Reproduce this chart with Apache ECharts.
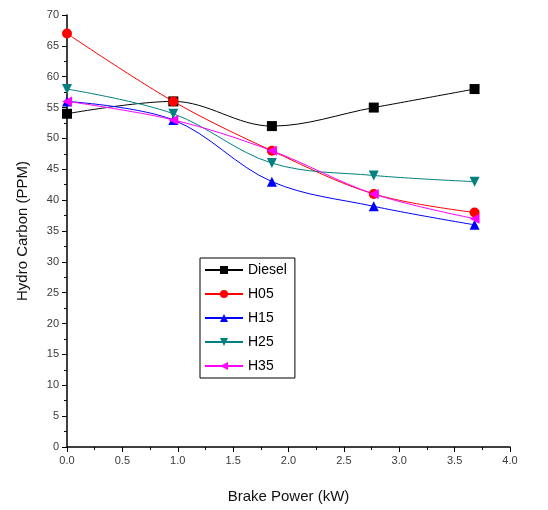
<!DOCTYPE html>
<html>
<head>
<meta charset="utf-8">
<script src="https://cdn.jsdelivr.net/npm/echarts@6/dist/echarts.min.js"></script>
<style>
  html, body { margin: 0; padding: 0; background: #fff; }
  #chart { width: 548px; height: 510px; }
</style>
</head>
<body>
<div id="chart"></div>
<script>
// brake power (kW) at each load step
const brakePower = [0.0, 0.96, 1.85, 2.77, 3.68];

const diesel = [54, 56, 52, 55, 58];
const h05 = [67, 56, 48, 41, 38];
const h15 = [56, 53, 43, 39, 36];
const h25 = [58, 54, 46, 44, 43];
const h35 = [56, 53, 48, 41, 37];

const seriesNames = ['Diesel', 'H05', 'H15', 'H25', 'H35'];

const pair = (ys) => brakePower.map((x, i) => [x, ys[i]]);

const chart = echarts.init(document.getElementById('chart'));

const mkSeries = (name, data, color, symbol, rotate) => ({
  name,
  type: 'line',
  data: pair(data),
  smooth: 0.35,
  symbol,
  symbolSize: 10,
  symbolRotate: rotate || 0,
  lineStyle: { color, width: 1 },
  itemStyle: { color },
  animation: false
});

const axisText = { color: '#3a3a3a', fontSize: 11, fontFamily: 'Liberation Sans' };

chart.setOption({
  backgroundColor: '#fff',
  grid: { left: 67, right: 38, top: 15, bottom: 63 },
  legend: {
    orient: 'vertical',
    left: 200,
    top: 258,
    data: seriesNames,
    borderColor: '#000',
    borderWidth: 1,
    padding: [5, 8, 5, 4],
    itemWidth: 38,
    itemHeight: 10,
    itemGap: 10,
    textStyle: { fontSize: 14, fontFamily: 'Liberation Sans', color: '#000' }
  },
  xAxis: {
    type: 'value',
    min: 0,
    max: 4,
    interval: 0.5,
    name: 'Brake Power (kW)',
    nameLocation: 'middle',
    nameGap: 42,
    nameTextStyle: { fontSize: 15, fontFamily: 'Liberation Sans', color: '#111' },
    axisLine: { lineStyle: { color: '#000', width: 1.5 } },
    axisTick: { inside: false, length: 5, lineStyle: { color: '#000' } },
    minorTick: { show: true, splitNumber: 2, length: 3, lineStyle: { color: '#000' } },
    splitLine: { show: false },
    axisLabel: Object.assign({ formatter: v => v.toFixed(1), margin: 8 }, axisText)
  },
  yAxis: {
    type: 'value',
    min: 0,
    max: 70,
    interval: 5,
    name: 'Hydro Carbon (PPM)',
    nameLocation: 'middle',
    nameGap: 37,
    nameTextStyle: { fontSize: 15, fontFamily: 'Liberation Sans', color: '#111' },
    axisLine: { show: true, lineStyle: { color: '#000', width: 1.5 } },
    axisTick: { show: true, inside: false, length: 5, lineStyle: { color: '#000' } },
    minorTick: { show: true, splitNumber: 2, length: 3, lineStyle: { color: '#000' } },
    splitLine: { show: false },
    axisLabel: Object.assign({ margin: 8 }, axisText)
  },
  series: [
    mkSeries('Diesel', diesel, '#000000', 'rect'),
    mkSeries('H05', h05, '#ff0000', 'circle'),
    mkSeries('H15', h15, '#0000ff', 'triangle'),
    mkSeries('H25', h25, '#008080', 'triangle', 180),
    mkSeries('H35', h35, '#ff00ff', 'triangle', 90)
  ]
});
</script>
</body>
</html>
